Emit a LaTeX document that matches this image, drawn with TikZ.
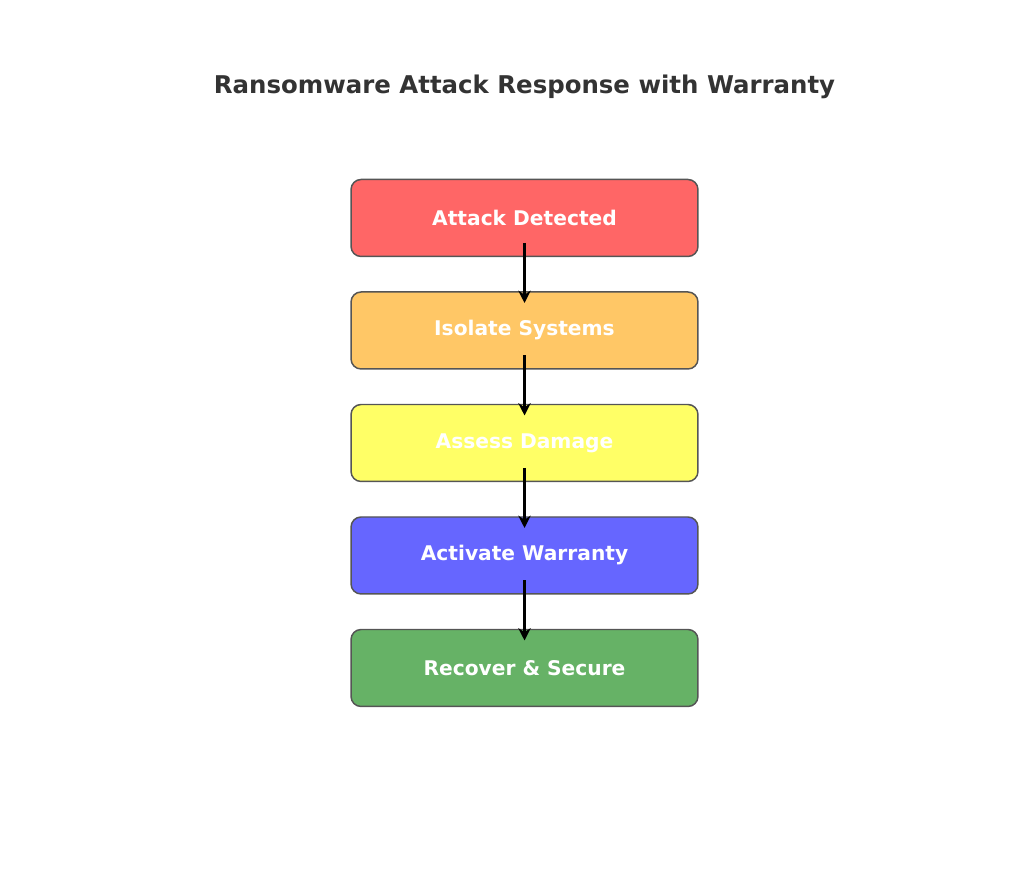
\documentclass[tikz,border=0pt]{standalone}
\usepackage{fontspec}
\setmainfont{DejaVu Sans}
\usepackage{tikz}
\usetikzlibrary{arrows.meta}
\definecolor{titlegray}{RGB}{51,51,51}
\definecolor{edgegray}{RGB}{85,85,85}
\definecolor{stepred}{RGB}{255,102,102}
\definecolor{steporange}{RGB}{255,199,102}
\definecolor{stepyellow}{RGB}{255,255,102}
\definecolor{stepblue}{RGB}{102,102,255}
\definecolor{stepgreen}{RGB}{102,178,102}

\begin{document}
\begin{tikzpicture}[x=0.02cm,y=0.02cm,
		stepbox/.style={draw=edgegray,line width=0.85pt,rounded corners=0.2cm,
			minimum width=6.94cm,minimum height=1.54cm,text=white,
			font=\bfseries\fontsize{11.5}{13}\selectfont},
		flow/.style={-{Stealth[length=7pt,width=7pt]},line width=2pt,
			shorten <=0.5cm,shorten >=0.55cm}]
			\useasboundingbox (0,0) rectangle (1024,878);
			\node[text=titlegray,font=\bfseries\fontsize{13.9}{16}\selectfont] (title) at (524.5,791) {Ransomware Attack Response with Warranty};
			\node[stepbox,fill=stepred] (attack) at (524.5,660) {Attack Detected};
			\node[stepbox,fill=steporange] (isolate) at (524.5,547.5) {Isolate Systems};
			\node[stepbox,fill=stepyellow] (assess) at (524.5,435) {Assess Damage};
			\node[stepbox,fill=stepblue] (activate) at (524.5,322.5) {Activate Warranty};
			\node[stepbox,fill=stepgreen] (recover) at (524.5,210) {Recover \& Secure};
			\draw[flow] (attack.center) -- (isolate.center);
			\draw[flow] (isolate.center) -- (assess.center);
			\draw[flow] (assess.center) -- (activate.center);
			\draw[flow] (activate.center) -- (recover.center);
		\end{tikzpicture}
\end{document}
